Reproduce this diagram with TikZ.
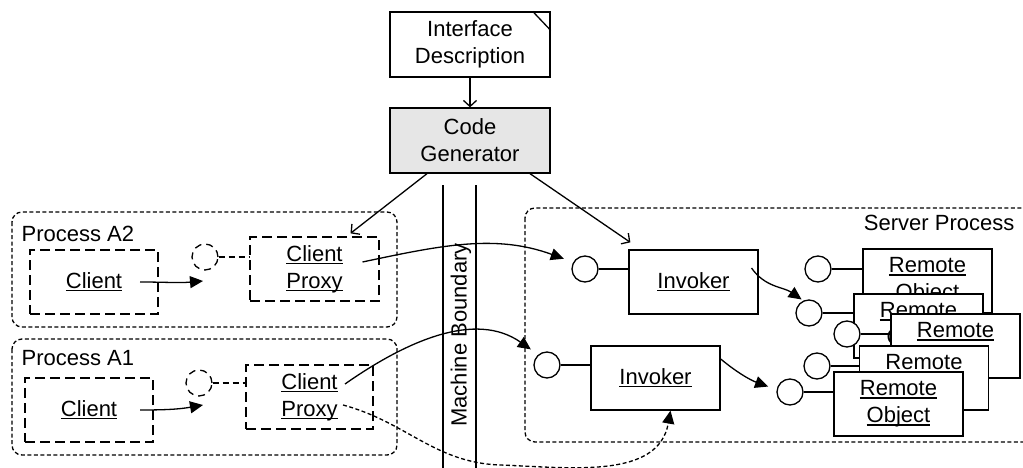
\documentclass[tikz,border=0pt]{standalone}
\usepackage{fontspec}
\setmainfont{Liberation Sans}
\usetikzlibrary{arrows.meta,calc}
% underlined word with a fixed rule depth
\newcommand\ultext[1]{\setbox0=\hbox{#1}\rlap{\rule[-2.8pt]{\wd0}{1.3pt}}\box0}
\definecolor{gengray}{RGB}{230,230,230}

\begin{document}
\begin{tikzpicture}[x=1pt,y=-1pt,line width=1.3pt,
  every node/.style={font=\fontsize{22}{27}\selectfont, inner sep=0pt},
  box/.style={draw, line width=1.3pt, fill=white, minimum width=129pt, minimum height=64pt, align=center},
  dbox/.style={box, dash pattern=on 10pt off 5pt},
  procline/.style={dash pattern=on 4pt off 2.5pt, rounded corners=10pt},
  port/.style={draw, circle, fill=white, minimum size=26pt, line width=1.3pt},
  dport/.style={port, dash pattern=on 7pt off 5pt},
  tri/.style={-{Triangle[length=13pt,width=12pt]}},
  open/.style={-{Straight Barb[length=6pt,width=13pt]}},
]
\useasboundingbox (0,0) rectangle (1023,468);

% process containers
\draw[procline] (12,212) rectangle (397,327);
\draw[procline] (12,339) rectangle (397,455);
\draw[procline] (525,208) rectangle (1035,442);
\node[anchor=base west] (lblA2) at (21,241) {Process A2};
\node[anchor=base west] (lblA1) at (21,365) {Process A1};
\node[anchor=base east] (lblS) at (1015,230) {Server Process};

% machine boundary
\draw (443,185) -- (443,468);
\draw (476,185) -- (476,468);
\node[rotate=90] (mb) at (461,335) {Machine Boundary};

% generator chain
\node[box, minimum width=160pt, minimum height=65pt] (ifd) at (470,44.5) {Interface\\Description};
\draw (ifd.north east) ++(-18,0) -- ++(18,19);
\node[box, fill=gengray, minimum width=160pt, minimum height=65pt] (cg) at (470,140.5) {Code\\Generator};
\draw[open] (ifd.south) -- (cg.north);

% process A2
\node[dbox, minimum width=128pt] (clA2) at (94,282) {\ultext{Client}};
\node[dport] (cA2) at (205,257) {};
\node[dbox] (pxA2) at (314.5,269) {\ultext{Client}\\\ultext{Proxy}};
\draw[dash pattern=on 6pt off 4pt] (cA2.east) -- (cA2.east -| pxA2.west);

% process A1
\node[dbox, minimum width=128pt] (clA1) at (89,410) {\ultext{Client}};
\node[dport] (cA1) at (199,383) {};
\node[dbox, minimum width=127pt] (pxA1) at (309.5,397) {\ultext{Client}\\\ultext{Proxy}};
\draw[dash pattern=on 6pt off 4pt] (cA1.east) -- (cA1.east -| pxA1.west);

% invokers
\node[port] (ci1) at (585,269) {};
\node[box] (inv1) at (693.5,282) {\ultext{Invoker}};
\draw (ci1.east) -- (ci1.east -| inv1.west);
\node[port] (ci2) at (547,365) {};
\node[box] (inv2) at (655.5,378) {\ultext{Invoker}};
\draw (ci2.east) -- (ci2.east -| inv2.west);

% remote objects, back to front
\node[port] (c1) at (818,269) {};
\draw (c1.east) -- (863,269);
\node[box] (r1) at (927.5,281) {\ultext{Remote}\\\ultext{Object}};
\node[port] (c2) at (809,313) {};
\draw (c2.east) -- (854,313);
\node[box] (r2) at (918.5,326) {\ultext{Remote}\\\ultext{Object}};
\node[port] (c3) at (847,334) {};
\draw (c3.east) -- (891,334);
\node[box] (r3) at (955.5,346) {\ultext{Remote}\\\ultext{Object}};
\node[port] (c4) at (817,366) {};
\draw (c4.east) -- (860,366);
\node[box] (r4) at (924,378) {\ultext{Remote}\\\ultext{Object}};
\node[port] (c5) at (790,392) {};
\draw (c5.east) -- (834,392);
\node[box] (r5) at (898.5,404) {\ultext{Remote}\\\ultext{Object}};

% connector end points
\coordinate (sClA2) at ($(clA2.center)+(46,0)$);
\coordinate (tClA2) at ($(cA2.center)+(-2,24)$);
\coordinate (sClA1) at ($(clA1.center)+(51,0)$);
\coordinate (tClA1) at ($(cA1.center)+(4,22)$);
\coordinate (sPxA2) at ($(pxA2.center)+(48,-7)$);
\coordinate (sPxA1) at ($(pxA1.center)+(35.5,-13)$);
\coordinate (sPxA1d) at ($(pxA1.center)+(33.5,8)$);
\coordinate (dip) at (500,465);
\coordinate (sInv1) at ($(inv1.center)+(58,-14)$);
\coordinate (sInv2) at ($(inv2.center)+(64,-20)$);
\coordinate (cgL) at ($(cg.south)+(-43,0)$);
\coordinate (cgR) at ($(cg.south)+(60,0)$);

% generator outputs
\draw[open] (cgL) -- ($(pxA2.north)+(36,-3)$);
\draw[open] (cgR) -- ($(inv1.north west)+(2,-7)$);

% client calls
\draw[tri] (sClA2) to[out=0,in=185] (tClA2);
\draw[tri] (sClA1) to[out=0,in=190] (tClA1);

% remote calls
\draw[tri, shorten >=10pt] (sPxA2) to[out=12,in=160] (ci1.150);
\draw[tri, shorten >=9pt] (sPxA1) to[out=35,in=145] (ci2.130);
\draw[tri, dash pattern=on 4pt off 2.5pt] (sPxA1d) to[out=-15,in=178] (dip)
  to[out=-2,in=-100] ($(inv2.south)+(15,0)$);

% dispatch to remote objects
\draw[tri, shorten >=2pt] (sInv1) to[out=-55,in=145] (c2.115);
\draw[tri, shorten >=9pt] (sInv2) to[out=-40,in=160] (c5.170);
\end{tikzpicture}
\end{document}
